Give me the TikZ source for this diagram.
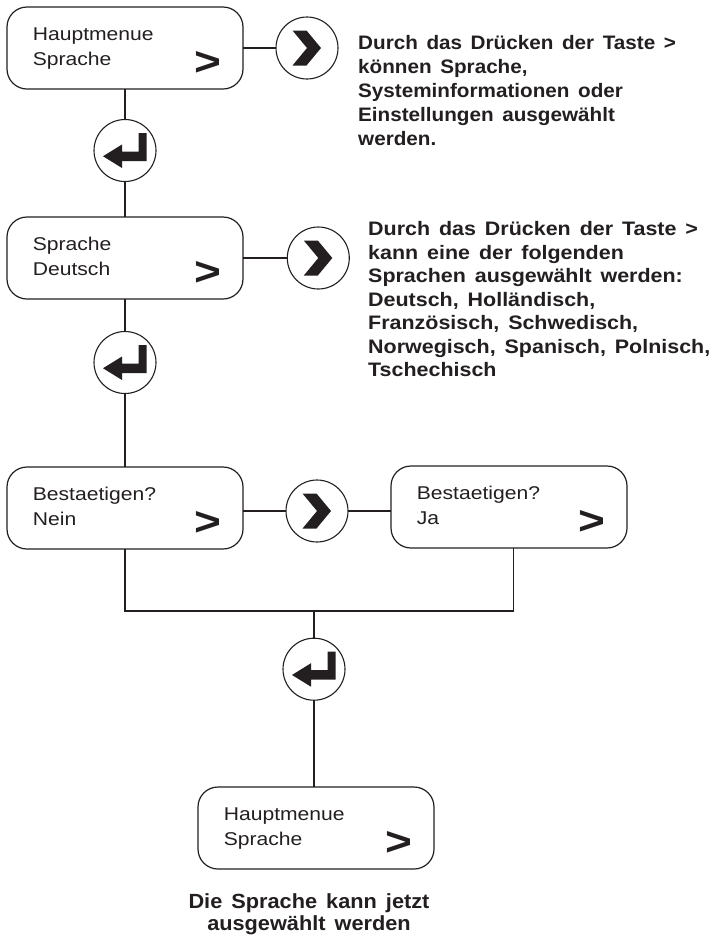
\documentclass[tikz,border=0pt]{standalone}
\usepackage{fontspec}
\usepackage{graphicx}
\setmainfont{Liberation Sans}
\newfontfamily\boxfont[FakeStretch=1.14]{Liberation Sans}
\newfontfamily\parafont[FakeStretch=1.06,WordSpace=1.5]{Liberation Sans}
\newfontfamily\parbfont[FakeStretch=1.1,WordSpace=1.5]{Liberation Sans}
\definecolor{ink}{HTML}{231F20}
\tikzset{
  box/.style={draw=ink, line width=1.2pt, rounded corners=20pt, minimum width=236pt, minimum height=82pt, inner sep=0pt, outer sep=0pt},
  btext/.style={anchor=base west, inner sep=0pt, font=\boxfont\fontsize{18.5}{22}\selectfont, text=ink},
  gtext/.style={anchor=base west, inner sep=0pt, font=\bfseries\fontsize{40}{40}\selectfont, text=ink},
  ring/.style={circle, draw=ink, line width=1.1pt, minimum size=62pt, inner sep=0pt, outer sep=0pt},
  conn/.style={draw=ink, line width=1.1pt},
  ptext/.style={anchor=base west, inner sep=0pt, font=\parafont\bfseries\fontsize{19.5}{23.5}\selectfont, text=ink},
  qtext/.style={anchor=base west, inner sep=0pt, font=\parbfont\bfseries\fontsize{19.5}{23.5}\selectfont, text=ink},
  ctext/.style={anchor=base, inner sep=0pt, font=\parafont\bfseries\fontsize{20.5}{24}\selectfont, text=ink},
  chev/.pic={\fill[ink] (-14.5,-17.5) -- (-0.5,-17.5) -- (14,0) -- (-0.5,17.5) -- (-14.5,17.5) -- (0,0) -- cycle;},
  enter/.pic={\fill[ink] (-22,5.75) -- (-3,-6) -- (-3,1) -- (13.5,1) -- (13.5,-17.5) -- (21.5,-17.5) -- (21.5,10.5) -- (-3,10.5) -- (-3,17.5) -- cycle;}
}
\newcommand\menubox[4]{%
  \node[box] (#1) at (#2) {};
  \node[btext] (#1-a) at ([shift={(25.7,33.7)}]#1.north west) {#3};
  \node[btext] (#1-b) at ([shift={(25.7,58)}]#1.north west) {#4};
  \node[gtext] (#1-g) at ([shift={(187,68.8)}]#1.north west) {\scalebox{1.15}[1]{>}};
}
\begin{document}
\begin{tikzpicture}[x=1pt,y=-1pt]
\useasboundingbox (0,0) rectangle (718,938);
\fill[white] (0,0) rectangle (718,938);

\menubox{b1}{125,48}{Hauptmenue}{Sprache}
\menubox{b2}{125,258}{Sprache}{Deutsch}
\menubox{b3}{125,508}{Bestaetigen?}{Nein}
\menubox{b4}{509,507}{Bestaetigen?}{Ja}
\menubox{b5}{316,828}{Hauptmenue}{Sprache}

\node[ring] (c1) at (307,48) {};
\node[ring] (c2) at (318.3,258) {};
\node[ring] (c3) at (317,511) {};
\pic at (c1.center) {chev};
\pic at (c2.center) {chev};
\pic at (c3.center) {chev};

\node[ring] (e1) at (125,150.5) {};
\node[ring] (e2) at (125,362.5) {};
\node[ring] (e3) at (314,669.2) {};
\pic at (e1.center) {enter};
\pic at (e2.center) {enter};
\pic at (e3.center) {enter};

\draw[conn] (b1.east) -- (c1.west);
\draw[conn] (b1.south) -- (e1.north);
\draw[conn] (e1.south) -- (b2.north);
\draw[conn] (b2.east) -- (c2.west);
\draw[conn] (b2.south) -- (e2.north);
\draw[conn] (e2.south) -- (b3.north);
\draw[conn] (c3.west) -- (c3.west -| b3.east);
\draw[conn] (c3.east) -- (c3.east -| b4.west);
\coordinate (jl) at (125,611);
\coordinate (jr) at (513.5,611);
\coordinate (jm) at (314,611);
\draw[conn] (b3.south) -- (jl) -- (jr) -- (jr |- b4.south);
\draw[conn] (jm) -- (e3.north);
\draw[conn] (e3.south) -- (e3.south |- b5.north);

\foreach \t [count=\i] in {{Durch das Drücken der Taste >},{können Sprache,},{Systeminformationen oder},{Einstellungen ausgewählt},{werden.}}
  \node[ptext] (p1-\i) at (358,{49.3+24*(\i-1)}) {\t};
\foreach \t [count=\i] in {{Durch das Drücken der Taste >},{kann eine der folgenden},{Sprachen ausgewählt werden:},{Deutsch, Holländisch,},{Französisch, Schwedisch,},{Norwegisch, Spanisch, Polnisch,},{Tschechisch}}
  \node[qtext] (p2-\i) at (368,{235.5+23.5*(\i-1)}) {\t};

\node[ctext] (cap1) at (309,908.3) {Die Sprache kann jetzt};
\node[ctext] (cap2) at (309,930) {ausgewählt werden};
\end{tikzpicture}
\end{document}
